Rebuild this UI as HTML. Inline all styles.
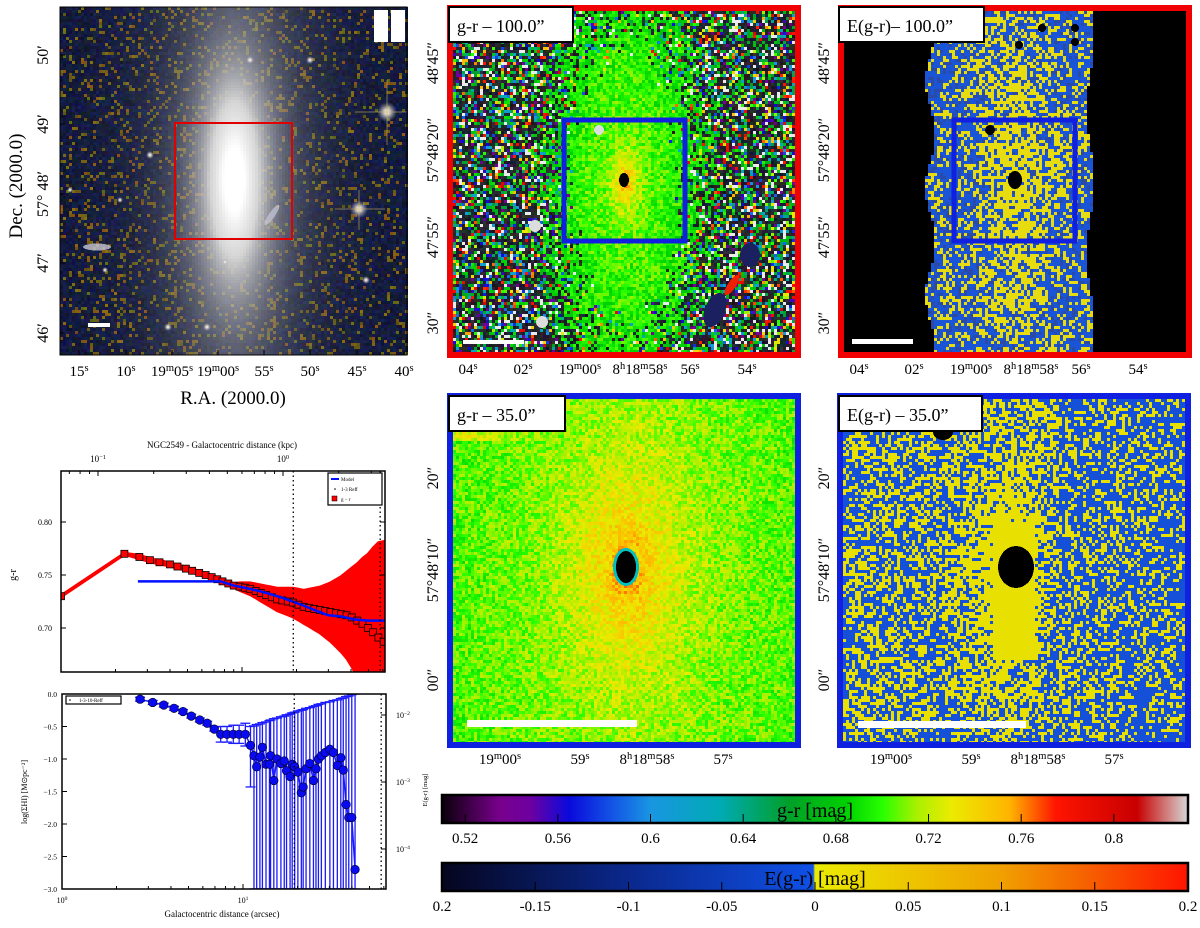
<!DOCTYPE html>
<html><head><meta charset="utf-8">
<style>
html,body{margin:0;padding:0;background:#fff;}
#wrap{position:relative;width:1200px;height:928px;overflow:hidden;}
svg{position:absolute;left:0;top:0;}
text{font-family:"Liberation Serif",serif;fill:#000;}
</style></head>
<body>
<div id="wrap">
<svg id="bg" width="1200" height="928" xmlns="http://www.w3.org/2000/svg" shape-rendering="crispEdges"></svg>
<svg id="sv" width="1200" height="928" xmlns="http://www.w3.org/2000/svg"></svg>
</div>
<script>
// ---- chart data: g-r radial profile ----
const grR   = [1,2.24,2.71,3.1,3.5,4.0,4.4,4.9,5.3,5.8,6.3,6.8,7.3,7.8,8.4,9.0,9.7,10.4,11.1,11.9,12.7,13.6,14.6,15.6,16.7,17.9,19.1,20.5,21.9,23.5,25.1,26.9,28.8,30.8,33.0,35.3,37.8,40.4,43.3,46.3,49.6,53.0,56.7,60.7];
const grVal = [0.730,0.770,0.767,0.764,0.762,0.760,0.758,0.756,0.754,0.752,0.750,0.748,0.746,0.744,0.742,0.740,0.739,0.738,0.737,0.735,0.733,0.731,0.729,0.727,0.726,0.725,0.724,0.722,0.720,0.719,0.718,0.717,0.716,0.715,0.714,0.713,0.712,0.710,0.707,0.704,0.700,0.696,0.691,0.687];
const grErr = [0.001,0.001,0.002,0.002,0.002,0.002,0.002,0.002,0.002,0.002,0.002,0.002,0.002,0.002,0.002,0.002,0.004,0.005,0.006,0.007,0.008,0.009,0.010,0.011,0.012,0.013,0.014,0.015,0.016,0.018,0.020,0.022,0.025,0.028,0.032,0.036,0.041,0.047,0.054,0.062,0.070,0.080,0.090,0.095];
const modelR   = [2.66,7.6,9,11,13,15,17,19,22,26,30,35,42,50,62];
const modelVal = [0.744,0.744,0.740,0.737,0.734,0.731,0.728,0.725,0.721,0.716,0.712,0.711,0.708,0.707,0.707];
const grTicks = [0.70,0.75,0.80];
const reffLines = [19.2,58];
// ---- chart data: HI surface density ----
const hiR   = [2.70,3.17,3.65,4.16,4.66,5.18,5.77,6.34,6.94,7.53,8.16,8.84,9.52,10.3,11.0,11.5,11.9,12.4,12.8,13.4,14.0,14.2,14.8,15.4,16.2,16.9,17.4,18.2,18.7,19.3,20.1,21.0,21.5,22.3,23.4,24.5,25.3,26.1,27.1,28.5,30.2,31.6,33.2,34.7,35.8,37.1,38.4,39.9,41.6];
const hiVal = [-0.08,-0.13,-0.17,-0.22,-0.27,-0.34,-0.40,-0.45,-0.54,-0.62,-0.62,-0.62,-0.62,-0.62,-0.79,-0.95,-1.12,-0.97,-0.82,-1.08,-1.08,-0.95,-1.33,-1.0,-1.07,-1.03,-1.18,-1.27,-1.08,-1.12,-1.2,-1.52,-1.43,-1.15,-1.07,-1.33,-1.15,-1.0,-0.95,-0.9,-0.85,-0.9,-1.1,-0.98,-1.17,-1.7,-1.9,-1.9,-2.7];
const hiTop = [-0.05,-0.10,-0.14,-0.19,-0.24,-0.31,-0.37,-0.42,-0.51,-0.50,-0.50,-0.48,-0.48,-0.45,-0.50,-0.49,-0.47,-0.46,-0.44,-0.43,-0.41,-0.40,-0.38,-0.37,-0.35,-0.34,-0.32,-0.31,-0.29,-0.28,-0.26,-0.25,-0.24,-0.22,-0.21,-0.19,-0.18,-0.16,-0.15,-0.13,-0.12,-0.10,-0.09,-0.07,-0.06,-0.04,-0.03,-0.01,0.0];
const hiBot = [-0.11,-0.16,-0.20,-0.25,-0.30,-0.37,-0.43,-0.48,-0.57,-0.74,-0.74,-0.76,-0.76,-0.80,-1.43,-3,-3,-3,-3,-3,-3,-3,-3,-3,-3,-3,-3,-3,-3,-3,-3,-3,-3,-3,-3,-3,-3,-3,-3,-3,-3,-3,-3,-3,-3,-3,-3,-3,-3];
const hiTicks = [0.0,-0.5,-1.0,-1.5,-2.0,-2.5,-3.0];
const hiTickLabels = ["0.0","\u22120.5","\u22121.0","\u22121.5","\u22122.0","\u22122.5","\u22123.0"];
// ---- colorbar ticks ----
const cb1Ticks = [0.52,0.56,0.6,0.64,0.68,0.72,0.76,0.8];
const cb1Labels = ["0.52","0.56","0.6","0.64","0.68","0.72","0.76","0.8"];
const cb2Ticks = [-0.2,-0.15,-0.1,-0.05,0,0.05,0.1,0.15,0.2];
const cb2Labels = ["0.2","-0.15","-0.1","-0.05","0","0.05","0.1","0.15","0.2"];

// ---------- helpers ----------
var seedV=12345;
function rnd(){seedV|=0;seedV=seedV+0x6D2B79F5|0;var t=Math.imul(seedV^seedV>>>15,1|seedV);t=t+Math.imul(t^t>>>7,61|t)^t;return((t^t>>>14)>>>0)/4294967296;}
var NS="http://www.w3.org/2000/svg";
var svRoot=document.getElementById('sv');
var bgRoot=document.getElementById('bg');
function el(tag,attrs,parent){var e=document.createElementNS(NS,tag);for(var k in attrs)e.setAttribute(k,attrs[k]);(parent||svRoot).appendChild(e);return e;}
function txt(x,y,s,size,opts,parent){var o=Object.assign({x:x,y:y,'font-size':size},opts||{});var t=el('text',o,parent);t.textContent=s;return t;}
function stxt(x,y,parts,size,anchor,rot,parent){
  var t=el('text',{x:x,y:y,'font-size':size,'text-anchor':anchor||'middle'},parent);
  if(rot)t.setAttribute('transform','rotate(-90 '+x+' '+y+')');
  parts.forEach(function(p){var ts=el('tspan',{},t);ts.textContent=p[0];if(p[1]){ts.setAttribute('dy',-size*0.35);ts.setAttribute('font-size',size*0.7);}else if(t.childNodes.length>1){ts.setAttribute('dy',size*0.35);}});
  return t;}

var gStops=[[0.510,[10,0,10]],[0.535,[120,0,140]],[0.548,[110,0,160]],[0.565,[10,10,220]],[0.585,[20,90,230]],[0.60,[25,150,225]],[0.63,[0,170,180]],[0.66,[0,160,40]],[0.685,[0,210,0]],[0.70,[40,255,0]],[0.715,[170,240,0]],[0.73,[235,235,0]],[0.755,[255,180,0]],[0.775,[255,20,0]],[0.81,[200,0,0]],[0.832,[215,215,215]]];
function gcol(v){if(v<=gStops[0][0])return gStops[0][1];for(var i=1;i<gStops.length;i++){if(v<=gStops[i][0]){var a=gStops[i-1],b=gStops[i];var f=(v-a[0])/(b[0]-a[0]);return a[1].map(function(c,j){return Math.round(c+(b[1][j]-c)*f);});}}return gStops[gStops.length-1][1];}
var eStops=[[-0.2,[5,5,30]],[-0.1,[10,40,140]],[-0.001,[15,80,230]],[0,[235,235,0]],[0.1,[240,160,0]],[0.2,[255,20,0]]];
function rgb(c){return 'rgb('+(c[0]|0)+','+(c[1]|0)+','+(c[2]|0)+')';}

var buf=[];
function R(x,y,w,h,c){buf.push('<rect x="'+x+'" y="'+y+'" width="'+w+'" height="'+h+'" fill="'+c+'"/>');}
function E(cx,cy,rx,ry,c,extra){buf.push('<ellipse cx="'+cx+'" cy="'+cy+'" rx="'+rx+'" ry="'+ry+'" fill="'+c+'" '+(extra||'')+'/>');}
var defs=[];

// Panel 1: galaxy colour image
try{(function(){
  var x0=60,y0=7,x1=407,y1=355,cx=233,cy=178,B=3;
  for(var y=y0;y<y1;y+=B)for(var x=x0;x<x1;x+=B){
    var dx=x-cx,dy=y-cy;
    var d=Math.sqrt((dx/58)*(dx/58)+(dy/190)*(dy/190));
    var g=Math.exp(-d*1.3);
    var r=6+rnd()*18,gg=12+rnd()*22,b=35+rnd()*50;
    if(rnd()<0.14){r=90+rnd()*60;gg=75+rnd()*40;b=15;}
    var w=Math.min(1,g*1.7);
    var L=100+155*Math.min(1,g*1.25);
    r=r*(1-w)+L*w;gg=gg*(1-w)+L*w;b=b*(1-w)+L*w;
    R(x,y,B,B,rgb([r,gg,b]));
  }
  defs.push('<radialGradient id="core"><stop offset="0" stop-color="#fff"/><stop offset="1" stop-color="#fff" stop-opacity="0"/></radialGradient>');
  defs.push('<radialGradient id="star"><stop offset="0" stop-color="#fff"/><stop offset="0.3" stop-color="#e6dcc8" stop-opacity="0.9"/><stop offset="1" stop-color="#96a0c8" stop-opacity="0"/></radialGradient>');
  E(cx,cy,16,34,'url(#core)');
  [[387,112,10],[359,209,9],[310,60,4],[207,327,4],[168,327,4],[225,262,3],[120,200,3],[105,270,3],[366,280,4],[70,190,3],[150,155,4],[250,60,4]].forEach(function(s){E(s[0],s[1],s[2],s[2],'url(#star)');});
  buf.push('<path d="M387 80V145M355 112H407M359 190V230M335 209H385" stroke="rgba(200,170,90,0.6)" stroke-width="1"/>');
  E(97,247,14,3.5,'rgba(200,200,210,0.8)');
  E(272,215,3,12,'rgba(200,200,220,0.7)','transform="rotate(35 272 215)"');
  R(374,10,14,32,'#fff');R(391,10,14,32,'#fff');R(88,323,22,4,'#fff');
})();}catch(e){}

// Panel 2: g-r 100"
try{(function(){
  var x0=453,y0=11,x1=795,y1=352,cx=624,cy=180,B=3;
  for(var y=y0;y<y1;y+=B)for(var x=x0;x<x1;x+=B){
    var dx=x-cx,dy=y-cy;var d=Math.sqrt((dx/85)*(dx/85)+(dy/220)*(dy/220));
    var pn=Math.max(0,Math.min(0.9,(d-0.55)*1.5));var c;
    if(rnd()<pn){var q=rnd();c=q<0.1?[235,235,235]:q<0.6?[15+rnd()*40,15+rnd()*40,25+rnd()*40]:gcol(0.53+rnd()*0.27);}
    else{var v=0.70+0.07*Math.exp(-Math.sqrt(dx*dx*4.84+dy*dy)/22)+(rnd()-0.5)*0.03-0.025*Math.max(0,d-0.45);c=gcol(v);}
    R(x,y,B,B,rgb(c));
  }
  E(cx,cy,5,7,'#000');
  [[599,130,5],[535,226,6],[542,322,6]].forEach(function(s){E(s[0],s[1],s[2],s[2],'#ddd');});
  E(715,310,10,18,'#1a2060','transform="rotate(23 715 310)"');E(750,255,10,12,'#1a2060');
  E(732,285,4,12,'#f02000','transform="rotate(34 732 285)"');
  R(463,340,61,4,'#fff');
})();}catch(e){}

// Panel 3: E(g-r) 100"
try{(function(){
  var x0=844,y0=11,x1=1186,y1=352,cx=1015,cy=180,B=3;
  for(var y=y0;y<y1;y+=B)for(var x=x0;x<x1;x+=B){
    var dx=x-cx,dy=y-cy;
    var lxe=929+5*Math.sin(y/17),rxe=1089+4*Math.sin(y/23);
    var c;
    if(x<lxe||x>rxe)c='#000';
    else{var py=0.3+0.45*Math.exp(-(dx/35)*(dx/35)-(dy/150)*(dy/150));c=rnd()<py?'#e6dc10':(rnd()<0.25?'#2a4aa8':'#1a55d8');}
    R(x,y,B,B,c);
  }
  E(cx,cy,7,9,'#000');
  [[990,130,5],[1042,28,4],[1075,28,4],[1075,42,4],[1019,45,4]].forEach(function(s){E(s[0],s[1],s[2],s[2],'#000');});
  R(852,339,61,5,'#fff');
})();}catch(e){}

// Panel 4: g-r 35"
try{(function(){
  var x0=453,y0=399,x1=795,y1=742,cx=626,cy=567,B=3;
  for(var y=y0;y<y1;y+=B)for(var x=x0;x<x1;x+=B){
    var dx=x-cx,dy=y-cy;
    var v=0.711+0.055*Math.exp(-Math.sqrt(dx*dx*3.24+dy*dy)/70)+(rnd()-0.5)*0.03-0.008*Math.abs(dx)/170;
    if(x<585&&y<440)v+=0.04*Math.exp(-((x-453)*(x-453)+(y-399)*(y-399))/2500);
    R(x,y,B,B,rgb(gcol(v)));
  }
  E(cx,cy,13,19,'#00c0c0');E(cx,cy,10,16,'#000');
  R(467,720,170,7,'#fff');
})();}catch(e){}

// Panel 5: E(g-r) 35"
try{(function(){
  var x0=843,y0=399,x1=1186,y1=742,B=3;
  for(var y=y0;y<y1;y+=B)for(var x=x0;x<x1;x+=B){
    var dx=x-1005,dy=y-567;
    var py=0.33+0.12*Math.max(0,(1005-x)/160)+0.5*Math.exp(-(dx/35)*(dx/35)-(dy/110)*(dy/110))+0.15*Math.exp(-(dx/70)*(dx/70));
    if(x>990&&x<1035&&y>520&&y<660)py=1;
    R(x,y,B,B,rnd()<py?'#e8e000':'#1450d8');
  }
  E(1016,567,18,21,'#000');E(943,432,10,8,'#000');
  R(858,721,168,7,'#fff');
})();}catch(e){}

// colorbars
try{(function(){
  var s1=gStops.map(function(s){return '<stop offset="'+((s[0]-0.510)/(0.832-0.510)).toFixed(4)+'" stop-color="'+rgb(s[1])+'"/>';}).join('');
  var s2=eStops.map(function(s){return '<stop offset="'+((s[0]+0.2)/0.4).toFixed(4)+'" stop-color="'+rgb(s[1])+'"/>';}).join('');
  defs.push('<linearGradient id="cb1">'+s1+'</linearGradient>');
  defs.push('<linearGradient id="cb2">'+s2+'</linearGradient>');
  R(442,795,746,28,'url(#cb1)');R(442,863,746,28,'url(#cb2)');
})();}catch(e){}
bgRoot.innerHTML='<defs>'+defs.join('')+'</defs>'+buf.join('');

// ---------- overlay ----------
function frame(x,y,w,h,color,sw,name){var r=el('rect',{x:x,y:y,width:w,height:h,fill:'none',stroke:color,'stroke-width':sw});return r;}
try{
frame(60,7,347,348,'#000',1,'panel-galaxy-frame');
frame(175,123,117,116,'#e00000',2,'zoom-region-box');
[[55,"50′"],[124,"49′"],[194,"57° 48′"],[263,"47′"],[333,"46′"]].forEach(function(t){var e=txt(48,t[0],t[1],16,{'text-anchor':'middle',transform:'rotate(-90 48 '+t[0]+')'});el('line',{x1:60,x2:65,y1:t[0],y2:t[0],stroke:'#000'});});
[[79,[["15"],["s",1]]],[126,[["10"],["s",1]]],[172,[["19"],["m",1],["05"],["s",1]]],[218,[["19"],["m",1],["00"],["s",1]]],[264,[["55"],["s",1]]],[310,[["50"],["s",1]]],[357,[["45"],["s",1]]],[404,[["40"],["s",1]]]].forEach(function(t){var e=stxt(t[0],376,t[1],15);el('line',{x1:t[0],x2:t[0],y1:355,y2:350,stroke:'#000'});});
var t1=txt(233,404,"R.A. (2000.0)",19,{'text-anchor':'middle'});
var t2=txt(22,186,"Dec. (2000.0)",19,{'text-anchor':'middle',transform:'rotate(-90 22 186)'});
}catch(e){}

function labelBox(x,y,w,h,s,name){var g=el('g',{});el('rect',{x:x,y:y,width:w,height:h,fill:'#fff',stroke:'#000','stroke-width':2},g);txt(x+8,y+h-10,s,18,{},g);}
try{
frame(450,8,348,347,'#f00000',6,'panel-gr-100-frame');
frame(564,120,121,121,'#1020e0',5,'panel-gr-zoom-box');
labelBox(449,7,124,35,"g-r – 100.0”","panel-gr-100-label");
frame(841,8,348,347,'#f00000',6,'panel-egr-100-frame');
frame(954,120,121,121,'#1020e0',5,'panel-egr-zoom-box');
labelBox(839,7,145,35,"E(g-r)– 100.0”","panel-egr-100-label");
frame(450,396,348,349,'#1020e0',6,'panel-gr-35-frame');
labelBox(449,396,116,35,"g-r – 35.0”","panel-gr-35-label");
frame(840,396,348,349,'#1020e0',6,'panel-egr-35-frame');
labelBox(839,396,143,35,"E(g-r) – 35.0”","panel-egr-35-label");
}catch(e){}

function leftTicks(x,list,nm){list.forEach(function(t){var e=txt(x,t[0],t[1],16,{'text-anchor':'middle',transform:'rotate(-90 '+x+' '+t[0]+')'});});}
function bottomTicks(y,list){list.forEach(function(t){var e=stxt(t[0],y,t[1],15);});}
try{
leftTicks(438,[[63,"48′45″"],[150,"57°48′20″"],[237,"47′55″"],[323,"30″"]],'dec-tick-label');
leftTicks(829,[[63,"48′45″"],[150,"57°48′20″"],[237,"47′55″"],[323,"30″"]],'dec-tick-label');
leftTicks(438,[[478,"20″"],[570,"57°48′10″"],[680,"00″"]],'dec-tick-label');
leftTicks(829,[[478,"20″"],[570,"57°48′10″"],[680,"00″"]],'dec-tick-label');
var raA=[[468,[["04"],["s",1]]],[523,[["02"],["s",1]]],[580,[["19"],["m",1],["00"],["s",1]]],[640,[["8"],["h",1],["18"],["m",1],["58"],["s",1]]],[690,[["56"],["s",1]]],[747,[["54"],["s",1]]]];
bottomTicks(374,raA);bottomTicks(374,raA.map(function(t){return [t[0]+391,t[1]];}));
var raB=[[500,[["19"],["m",1],["00"],["s",1]]],[580,[["59"],["s",1]]],[647,[["8"],["h",1],["18"],["m",1],["58"],["s",1]]],[723,[["57"],["s",1]]]];
bottomTicks(764,raB);bottomTicks(764,raB.map(function(t){return [t[0]+391,t[1]];}));
}catch(e){}

function cbar(y,ticks,labels,vmin,vmax,title,nm){
  var g=el('g',{});
  el('rect',{x:442,y:y,width:746,height:28,fill:'none',stroke:'#000','stroke-width':2.5},g);
  ticks.forEach(function(v,i){var x=442+746*(v-vmin)/(vmax-vmin);el('line',{x1:x,x2:x,y1:y+28,y2:y+19,stroke:'#000','stroke-width':1},g);txt(x,y+48,labels[i],15,{'text-anchor':'middle'},g);});
  txt(815,y+22,title,20,{'text-anchor':'middle'},g);
}
try{
cbar(795,cb1Ticks,cb1Labels,0.510,0.832,"g-r [mag]","colorbar-gr");
cbar(863,cb2Ticks,cb2Labels,-0.2,0.2,"E(g-r) [mag]","colorbar-egr");
}catch(e){}

// ---------- g-r profile chart ----------
var P1={x0:61,x1:385,y0:471,y1:672};
function lx(r){return 61+181*Math.log10(r);}
function gy(v){return 522-(v-0.80)*1060;}
try{(function(){
  var g=el('g',{});
  var dd=el('defs',{},g);var cp=el('clipPath',{id:'c1'},dd);el('rect',{x:P1.x0,y:P1.y0,width:P1.x1-P1.x0,height:P1.y1-P1.y0},cp);
  var pg=el('g',{'clip-path':'url(#c1)'},g);
  var up=grR.map(function(r,i){return lx(r)+','+gy(grVal[i]+grErr[i]);});
  var dn=grR.map(function(r,i){return lx(r)+','+gy(grVal[i]-grErr[i]);}).reverse();
  var band=el('polygon',{points:up.concat(dn).join(' '),fill:'#ff0000',stroke:'#ff0000','stroke-width':2},pg);
  
  var ln=el('polyline',{points:grR.map(function(r,i){return lx(r)+','+gy(grVal[i]);}).join(' '),fill:'none',stroke:'#ff0000','stroke-width':3},pg);
  
  grR.forEach(function(r,i){var s=el('rect',{x:lx(r)-3.5,y:gy(grVal[i])-3.5,width:7,height:7,fill:'#ff0000',stroke:'#000','stroke-width':0.8},pg);});
  var ml=el('polyline',{points:modelR.map(function(r,i){return lx(r)+','+gy(modelVal[i]);}).join(' '),fill:'none',stroke:'#0010ff','stroke-width':2.5},pg);
  
  reffLines.forEach(function(r){var l=el('line',{x1:lx(r),x2:lx(r),y1:P1.y0,y2:P1.y1,stroke:'#000','stroke-dasharray':'1.5,3','stroke-width':1.3},pg);});
  el('rect',{x:P1.x0,y:P1.y0,width:P1.x1-P1.x0,height:P1.y1-P1.y0,fill:'none',stroke:'#000','stroke-width':1.5},g);
  grTicks.forEach(function(v){el('line',{x1:P1.x0,x2:P1.x0+5,y1:gy(v),y2:gy(v),stroke:'#000'},g);el('line',{x1:P1.x1,x2:P1.x1-5,y1:gy(v),y2:gy(v),stroke:'#000'},g);txt(45,gy(v)+3,v.toFixed(2),8,{'text-anchor':'middle'},g);});
  [1,2,3,4,5,6,7,8,9,10,20,30,40,50,60].forEach(function(r){el('line',{x1:lx(r),x2:lx(r),y1:P1.y1,y2:P1.y1-(r==1||r==10?5:3),stroke:'#000'},g);});
  [0.07,0.08,0.09,0.1,0.2,0.3,0.4,0.5,0.6,0.7,0.8,0.9,1,2,3].forEach(function(k){var x=283+185*Math.log10(k);if(x>P1.x0&&x<P1.x1)el('line',{x1:x,x2:x,y1:P1.y0,y2:P1.y0+(k==0.1||k==1?5:3),stroke:'#000'},g);});
  stxt(98,462,[["10"],["−1",1]],9,'middle',false,g);stxt(283,462,[["10"],["0",1]],9,'middle',false,g);
  txt(222,448,"NGC2549 - Galactocentric distance (kpc)",9,{'text-anchor':'middle'},g);
  txt(16,575,"g-r",10,{'text-anchor':'middle',transform:'rotate(-90 16 575)'},g);
  var lg=el('g',{},g);
  el('rect',{x:328,y:473,width:54,height:32,fill:'#fff',stroke:'#000','stroke-width':1.2},lg);
  el('line',{x1:331,x2:339,y1:479,y2:479,stroke:'#0010ff','stroke-width':2},lg);txt(341,481,"Model",5,{},lg);
  el('circle',{cx:335,cy:489,r:0.8,fill:'#000'},lg);txt(341,491,"1-3 Reff",5,{},lg);
  el('rect',{x:332,y:496,width:5,height:5,fill:'#f00',stroke:'#000','stroke-width':0.5},lg);txt(341,501,"g − r",5,{},lg);
})();}catch(e){}

// ---------- HI profile chart ----------
var P2={x0:62,x1:386,y0:694,y1:889};
function hx(r){return 62+181*Math.log10(r);}
function hy(v){return 694-v*65;}
try{(function(){
  var g=el('g',{});
  var dd=el('defs',{},g);var cp=el('clipPath',{id:'c2'},dd);el('rect',{x:P2.x0,y:P2.y0,width:P2.x1-P2.x0,height:P2.y1-P2.y0},cp);
  var pg=el('g',{'clip-path':'url(#c2)'},g);
  hiR.forEach(function(r,i){var x=hx(r);var e=el('g',{},pg);
    el('line',{x1:x,x2:x,y1:hy(hiTop[i]),y2:hy(hiBot[i]),stroke:'#1a1aff','stroke-width':1.3},e);
    el('line',{x1:x-5,x2:x+5,y1:hy(hiTop[i]),y2:hy(hiTop[i]),stroke:'#1a1aff','stroke-width':1.3},e);
    el('line',{x1:x-5,x2:x+5,y1:hy(hiBot[i]),y2:hy(hiBot[i]),stroke:'#1a1aff','stroke-width':1.3},e);});
  var ln=el('polyline',{points:hiR.map(function(r,i){return hx(r)+','+hy(hiVal[i]);}).join(' '),fill:'none',stroke:'#1a1aff','stroke-width':1.5},pg);
  
  hiR.forEach(function(r,i){var c=el('circle',{cx:hx(r),cy:hy(hiVal[i]),r:4.3,fill:'#0a0af0',stroke:'#000020','stroke-width':0.6},pg);});
  reffLines.forEach(function(r){var l=el('line',{x1:hx(r),x2:hx(r),y1:P2.y0,y2:P2.y1,stroke:'#000','stroke-dasharray':'1.5,3','stroke-width':1.3},pg);});
  el('rect',{x:P2.x0,y:P2.y0,width:P2.x1-P2.x0,height:P2.y1-P2.y0,fill:'none',stroke:'#000','stroke-width':1.5},g);
  hiTicks.forEach(function(v,i){el('line',{x1:P2.x0,x2:P2.x0+5,y1:hy(v),y2:hy(v),stroke:'#000'},g);txt(57,hy(v)+3,hiTickLabels[i],7.5,{'text-anchor':'end'},g);});
  [1,2,3,4,5,6,7,8,9,10,20,30,40,50,60].forEach(function(r){el('line',{x1:hx(r),x2:hx(r),y1:P2.y1,y2:P2.y1-(r==1||r==10?5:3),stroke:'#000'},g);});
  [[718,"−2"],[785,"−3"],[852,"−4"]].forEach(function(t){el('line',{x1:P2.x1,x2:P2.x1-5,y1:t[0]-3,y2:t[0]-3,stroke:'#000'},g);stxt(403,t[0],[["10"],[t[1],1]],8,'middle',false,g);});
  stxt(62,903,[["10"],["0",1]],8,'middle',false,g);stxt(243,903,[["10"],["1",1]],8,'middle',false,g);
  txt(222,917,"Galactocentric distance (arcsec)",9,{'text-anchor':'middle'},g);
  txt(27,792,"log(ΣHI) [M⊙pc⁻²]",8,{'text-anchor':'middle',transform:'rotate(-90 27 792)'},g);
  txt(427,790,"E(g-r) [mag]",6.5,{'text-anchor':'middle',transform:'rotate(-90 427 790)'},g);
  var lg=el('g',{},g);
  el('rect',{x:66,y:696,width:55,height:8,fill:'#fff',stroke:'#000','stroke-width':1.2},lg);
  el('circle',{cx:70,cy:700,r:0.8,fill:'#000'},lg);txt(79,702,"1-3-10-Reff",5,{},lg);
})();}catch(e){}
</script>
</body></html>
